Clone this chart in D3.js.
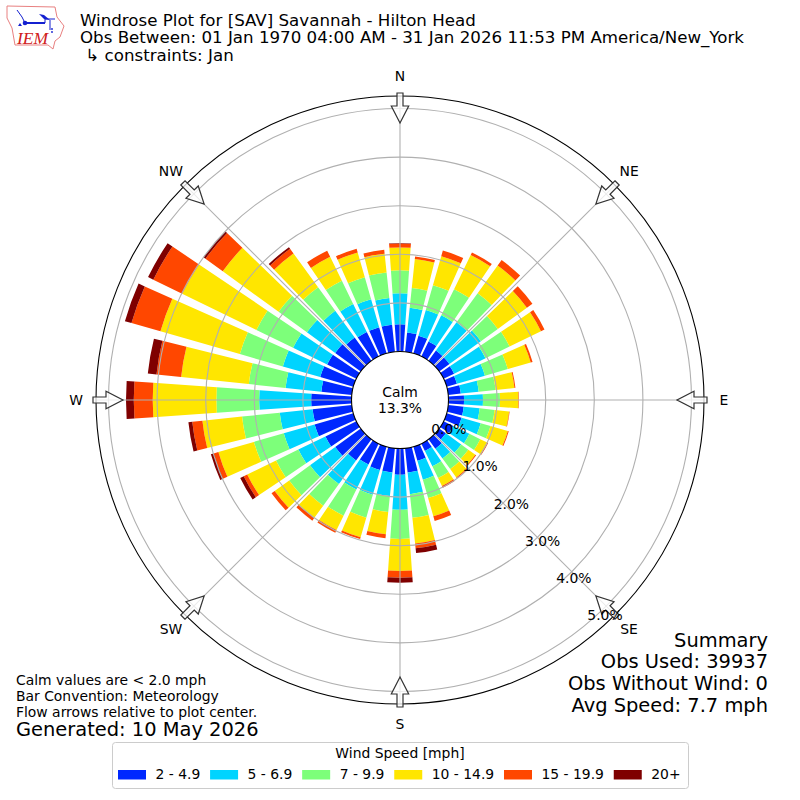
<!DOCTYPE html>
<html><head><meta charset="utf-8">
<script src="https://cdn.jsdelivr.net/npm/d3@7"></script>
<style>html,body{margin:0;padding:0;background:#fff}svg{display:block}text{font-family:"DejaVu Sans";fill:#000}</style>
</head><body><svg id="c" width="800" height="800"></svg>
<script>
const directions = d3.range(0, 360, 10);
const speedBins = ["2 - 4.9","5 - 6.9","7 - 9.9","10 - 14.9","15 - 19.9","20+"];
const binColors = ["#0028ff","#00d4ff","#7dff7a","#ffe600","#ff4700","#7f0000"];
const s2 = [.56,.40,.38,.34,.26,.26,.24,.22,.26,.32,.32,.32,.22,.17,.24,.17,.30,.50,.54,.50,.50,.48,.54,.65,.71,.83,.81,.83,.63,.71,.67,.65,.59,.56,.56,.56];
const s5 = [.64,.51,.55,.60,.72,.80,.72,.60,.37,.39,.33,.41,.37,.39,.25,.35,.41,.45,.72,.49,.53,.57,.60,.64,.62,.66,.68,1.07,.74,.80,.78,.72,.68,.64,.60,.55];
const s7 = [.47,.41,.53,.60,.74,.43,.55,.49,.35,.35,.31,.21,.25,.18,.27,.27,.39,.49,.60,.33,.49,.60,.55,.53,.51,.64,.78,.88,.76,.92,.84,.72,.60,.53,.47,.53];
const s10 = [.47,.60,.62,.78,.70,.74,.72,.49,.39,.38,.30,.37,.16,.18,.21,.18,.39,.53,.66,.46,.42,.33,.31,.37,.66,.76,.82,1.31,1.40,1.70,1.70,1.42,.86,.55,.53,.39];
const s15 = [.08,.05,.12,.06,.14,.14,.08,.04,.02,.01,.01,.02,.02,.02,.02,.04,.10,.10,.14,.08,.04,.06,.07,.08,.08,.10,.21,.39,.51,.62,.66,.44,.12,.14,.08,.08];
const s20 = [.01,0,0,0,0,0,0,0,0,0,0,0,0,0,0,0,0,.10,.10,0,0,0,0,0,.08,.06,.08,.16,.18,.14,.12,.05,.04,0,0,0];
const seriesValues = [s2,s5,s7,s10,s15,s20];
const ringTicks = [0,1,2,3,4,5];
const compass = [["N",0],["NE",45],["E",90],["SE",135],["S",180],["SW",225],["W",270],["NW",315]];
const titleLines = ["Windrose Plot for [SAV] Savannah - Hilton Head","Obs Between: 01 Jan 1970 04:00 AM - 31 Jan 2026 11:53 PM America/New_York"," \u21b3 constraints: Jan"];
const summaryLines = ["Summary","Obs Used: 39937","Obs Without Wind: 0","Avg Speed: 7.7 mph"];
const noteLines = ["Calm values are < 2.0 mph","Bar Convention: Meteorology","Flow arrows relative to plot center."];
const generated = "Generated: 10 May 2026";
const calm = ["Calm","13.3%"];

const svg = d3.select("#c");
const cx = 400, cy = 400, outerR = 304;
const r = d3.scaleLinear().domain([0,5]).range([48.5,291.5]);
const rad = d => d*Math.PI/180;
const plot = svg.append("g").attr("transform",`translate(${cx},${cy})`);

// bars
const rows = directions.map((d,i)=>{const o={dir:d};speedBins.forEach((b,j)=>o[b]=seriesValues[j][i]);return o;});
const stacked = d3.stack().keys(speedBins)(rows);
const arc = d3.arc();
stacked.forEach((layer,j)=>{
  plot.append("g").selectAll("path").data(layer).join("path")
    .attr("fill",binColors[j])
    .attr("d",d=>arc({innerRadius:r(d[0]),outerRadius:r(d[1]),startAngle:rad(d.data.dir-4),endAngle:rad(d.data.dir+4)}));
});
// grid
plot.append("g").selectAll("circle").data(ringTicks.slice(1)).join("circle")
  .attr("r",d=>r(d)).attr("fill","none").attr("stroke","#b0b0b0").attr("stroke-width",1.1);
plot.append("g").selectAll("line").data(compass).join("line")
  .attr("x1",0).attr("y1",0)
  .attr("x2",d=>outerR*Math.sin(rad(d[1]))).attr("y2",d=>-outerR*Math.cos(rad(d[1])))
  .attr("stroke","#b0b0b0").attr("stroke-width",1.1);
// hole and frame
plot.append("circle").attr("r",r(0)).attr("fill","#fff").attr("stroke","#000").attr("stroke-width",1.1);
plot.append("circle").attr("r",outerR).attr("fill","none").attr("stroke","#000").attr("stroke-width",1.1);
// compass arrows
const arrowPath = "M-3,-307L3,-307L3,-294L8.7,-294L0,-277L-8.7,-294L-3,-294Z";
plot.append("g").selectAll("path").data(compass).join("path")
  .attr("d",arrowPath).attr("transform",d=>`rotate(${d[1]})`)
  .attr("fill","#fff").attr("fill-opacity",.75).attr("stroke","#333").attr("stroke-width",1.2);
// radial labels
plot.append("g").selectAll("text").data(ringTicks).join("text")
  .attr("x",d=>r(d)*Math.sin(rad(140))).attr("y",d=>-r(d)*Math.cos(rad(140))-3)
  .attr("font-size",13.9).text(d=>d.toFixed(1)+"%");
plot.append("g").selectAll("text").data(compass).join("text")
  .attr("x",d=>324*Math.sin(rad(d[1]))).attr("y",d=>-324*Math.cos(rad(d[1]))+5)
  .attr("text-anchor","middle").attr("font-size",13.9).text(d=>d[0]);
plot.selectAll(".calm").data(calm).join("text").attr("class","calm")
  .attr("x",0).attr("y",(d,i)=>-3+i*16).attr("text-anchor","middle").attr("font-size",13.9).text(d=>d);

// title
svg.append("g").selectAll("text").data(titleLines).join("text")
  .attr("x",80).attr("y",(d,i)=>25.5+i*17.5).attr("font-size",16.67).style("white-space","pre").text(d=>d);
// summary
svg.append("g").selectAll("text").data(summaryLines).join("text")
  .attr("x",768).attr("y",(d,i)=>646.5+i*21.7).attr("text-anchor","end").attr("font-size",19.44).text(d=>d);
// notes
svg.append("g").selectAll("text").data(noteLines).join("text")
  .attr("x",16).attr("y",(d,i)=>685+i*16).attr("font-size",13.9).text(d=>d);
svg.append("text").attr("x",16).attr("y",736).attr("font-size",19.44).text(generated);

// logo
const logo = svg.append("g");
logo.append("path").attr("d","M7,6L55,7L57,17L64,26L60,37L55,41L53,49L48,45L15,45L12,28L7,18Z").attr("fill","#fff").attr("stroke","#e88080").attr("stroke-width",1);
logo.append("path").attr("d","M25,23L45,23").attr("fill","none").attr("stroke","#1420d0").attr("stroke-width",2);
logo.append("path").attr("d","M17,10L22,17L25,23M45,19L55,19M45,19L45,23M50,20L50,30").attr("fill","none").attr("stroke","#1420d0").attr("stroke-width",1);
logo.append("path").attr("d","M39,14L44,15L50,20L44,19Z").attr("fill","#1420d0");
logo.append("circle").attr("cx",25).attr("cy",23).attr("r",2.3).attr("fill","#1420d0");
logo.append("path").attr("d","M20,23L22,26L18,26Z").attr("fill","#1420d0");
logo.append("circle").attr("cx",52).attr("cy",29).attr("r",.9).attr("fill","#1420d0");
logo.append("circle").attr("cx",52).attr("cy",32).attr("r",.9).attr("fill","#1420d0");
logo.append("text").attr("x",17).attr("y",43.5).attr("font-size",17.5).attr("font-style","italic").style("font-family","Liberation Serif").style("fill","#d02020").text("IEM");

// legend
const leg = svg.append("g");
leg.append("rect").attr("x",112.5).attr("y",742.5).attr("width",576).attr("height",46).attr("rx",3).attr("fill","#fff").attr("stroke","#ccc").attr("stroke-width",1);
leg.append("text").attr("x",400).attr("y",758).attr("text-anchor","middle").attr("font-size",13.9).text("Wind Speed [mph]");
let lx = 118;
speedBins.forEach((b,i)=>{
  leg.append("rect").attr("x",lx).attr("y",770).attr("width",28).attr("height",9.5).attr("fill",binColors[i]);
  const t = leg.append("text").attr("x",lx+37.5).attr("y",779).attr("font-size",13.9).text(b);
  lx += 37.5 + t.node().getComputedTextLength() + 9.8;
});
</script></body></html>
